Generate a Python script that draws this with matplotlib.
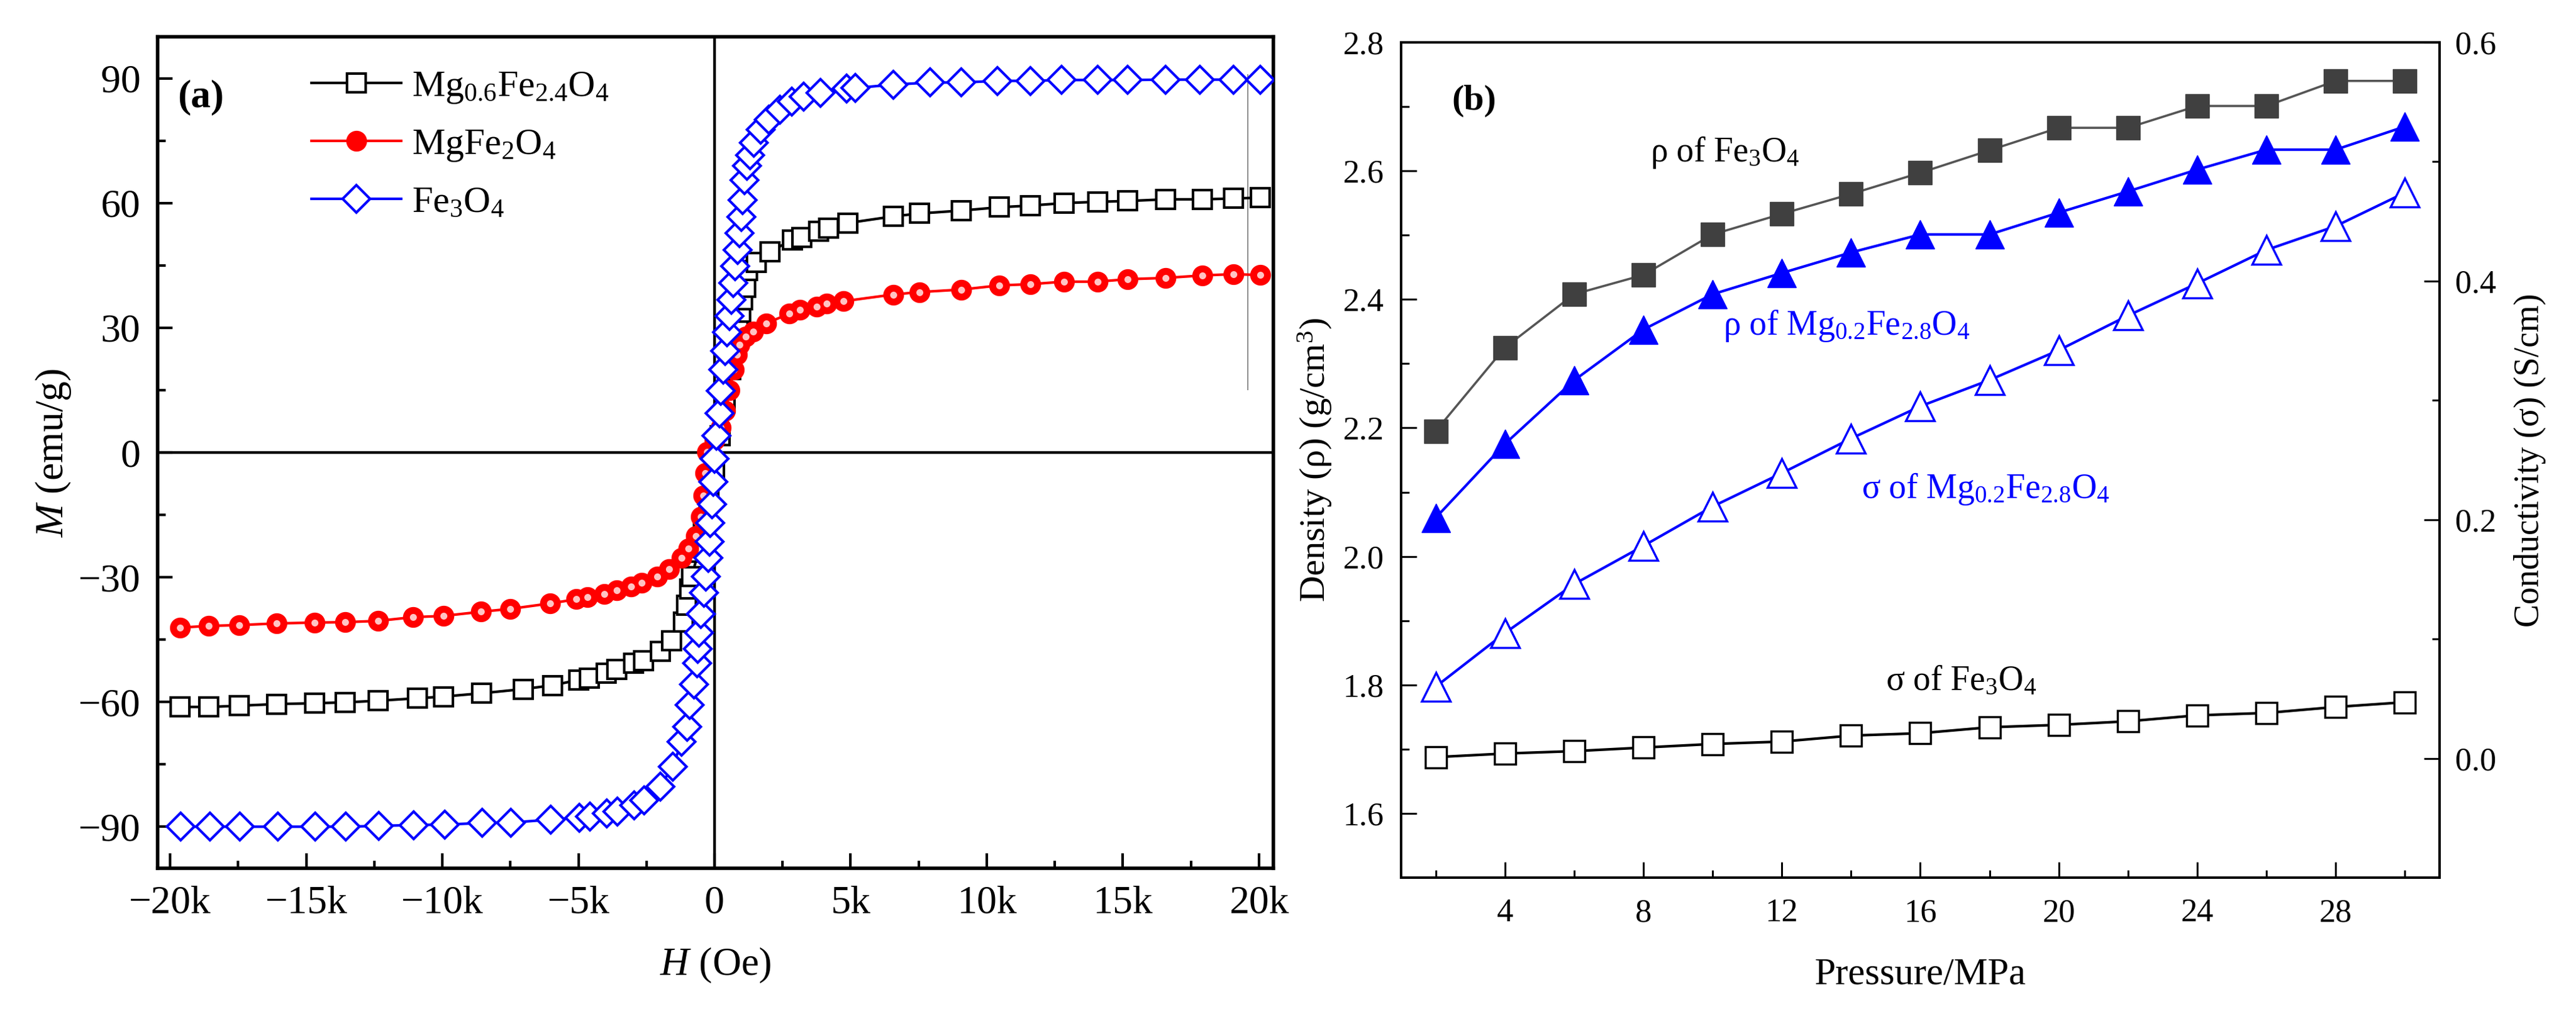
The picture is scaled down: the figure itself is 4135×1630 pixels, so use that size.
import matplotlib
matplotlib.use("Agg")
import matplotlib.pyplot as plt
from matplotlib.ticker import MultipleLocator, FuncFormatter

plt.rcParams['font.family'] = ['Liberation Serif', 'DejaVu Serif']
plt.rcParams['mathtext.fontset'] = 'custom'
plt.rcParams['mathtext.rm'] = 'Liberation Serif'
plt.rcParams['mathtext.it'] = 'Liberation Serif:italic'
plt.rcParams['mathtext.bf'] = 'Liberation Serif:bold'

# ---- panel (a): M-H loops (H in Oe, M in emu/g) ----
H_fe = [-19610, -18550, -17430, -16050, -14670, -13550, -12330, -11050, -9920, -8540,
        -7490, -6010, -4960, -4570, -3970, -3580, -2950, -2590, -2000, -1540,
        -1210, -1010, -920, -760, -650, -610, -570, -500, -380, -310,
        -230, -190, -150, -80, -40, 0, 80, 190, 230, 310,
        380, 460, 540, 610, 690, 760, 840, 920, 990, 1030,
        1100, 1200, 1300, 1440, 1700, 2000, 2400, 2840, 3280, 3890,
        4860, 5180, 6580, 7930, 9070, 10390, 11610, 12750, 14070, 15180,
        16580, 17840, 19070, 20040]
M_fe = [-90.0, -90.0, -90.0, -90.0, -90.0, -90.0, -89.8, -89.6, -89.5, -89.1,
        -89.0, -88.3, -87.8, -87.5, -86.8, -86.3, -84.9, -83.6, -80.3, -75.6,
        -69.6, -65.9, -60.7, -55.7, -50.7, -47.3, -43.3, -38.8, -33.8, -29.9,
        -25.4, -21.4, -16.9, -12.4, -7.0, -1.5, 4.0, 9.5, 14.9, 19.9,
        24.4, 28.9, 32.8, 36.8, 40.8, 44.8, 48.8, 52.7, 56.7, 60.7,
        65.5, 69.0, 71.5, 74.5, 77.6, 80.1, 82.5, 84.4, 85.6, 86.5,
        87.5, 87.7, 88.5, 89.0, 89.0, 89.4, 89.4, 89.6, 89.6, 89.6,
        89.7, 89.7, 89.7, 89.7]

H_mg06 = [-19630, -18580, -17460, -16080, -14700, -13580, -12370, -10910, -9960, -8550,
          -7030, -5960, -5000, -4590, -3980, -3590, -2980, -2600, -1990, -1570,
          -1150, -1030, -920, -840, -600, -400, -200, 0, 200, 400,
          600, 800, 880, 960, 1030, 1150, 1220, 1530, 2030, 2870,
          3210, 3820, 4200, 4890, 6560, 7530, 9070, 10470, 11610, 12840,
          14070, 15180, 16580, 17930, 19070, 20040]
M_mg06 = [-61.2, -61.2, -60.9, -60.5, -60.3, -60.1, -59.7, -59.1, -58.7, -57.9,
          -56.9, -56.0, -54.7, -54.2, -53.0, -52.2, -50.7, -50.0, -47.8, -45.3,
          -40.8, -36.8, -32.8, -29.9, -24.0, -18.0, -11.0, -4.0, 4.0, 12.0,
          20.0, 28.9, 30.8, 33.8, 36.8, 39.8, 43.8, 45.8, 48.3, 51.2,
          51.7, 53.2, 54.0, 55.2, 56.8, 57.5, 58.2, 59.0, 59.4, 60.0,
          60.3, 60.5, 60.9, 60.9, 61.1, 61.3]

H_mgfe = [-19630, -18580, -17460, -16080, -14700, -13580, -12370, -11080, -9960, -8580,
          -7500, -6040, -5080, -4660, -4050, -3590, -3060, -2680, -2100, -1680,
          -1220, -960, -690, -500, -420, -340, -270, 0, 230, 400,
          560, 700, 820, 920, 1150, 1410, 1910, 2750, 3130, 3750,
          4130, 4740, 6560, 7530, 9070, 10470, 11610, 12840, 14070, 15180,
          16580, 17930, 19070, 20040]
M_mgfe = [-42.1, -41.7, -41.5, -41.1, -40.9, -40.8, -40.5, -39.6, -39.3, -38.3,
          -37.6, -36.3, -35.3, -34.8, -34.1, -33.2, -32.3, -31.3, -29.9, -28.1,
          -25.4, -23.1, -20.1, -15.4, -10.4, -5.0, 0.2, 3.0, 6.0, 10.0,
          15.0, 20.0, 23.5, 25.9, 27.9, 29.1, 31.1, 33.4, 34.3, 35.1,
          35.8, 36.4, 38.0, 38.6, 39.2, 40.2, 40.5, 41.1, 41.1, 41.7,
          42.0, 42.6, 42.9, 42.7]

# thin grey guide line in panel (a)
guide_H = [19600, 19600]
guide_M = [15.2, 90.9]

# ---- panel (b): density and conductivity vs pressure ----
pressure = [2, 4, 6, 8, 10, 12, 14, 16, 18, 20, 22, 24, 26, 28, 30]
rho_fe3o4 = [2.195, 2.325, 2.408, 2.438, 2.501, 2.533, 2.564, 2.597, 2.632, 2.667,
             2.667, 2.701, 2.701, 2.740, 2.740]
rho_mg02 = [2.060, 2.175, 2.274, 2.353, 2.408, 2.441, 2.473, 2.501, 2.501, 2.535,
            2.568, 2.602, 2.633, 2.633, 2.669]
sigma_mg02 = [0.060, 0.105, 0.146, 0.178, 0.211, 0.239, 0.268, 0.295, 0.317, 0.342,
              0.371, 0.398, 0.426, 0.446, 0.474]
sigma_fe3o4 = [0.001, 0.004, 0.006, 0.009, 0.012, 0.014, 0.019, 0.021, 0.026, 0.028,
               0.031, 0.036, 0.038, 0.043, 0.047]


def kfmt(v, pos):
    if abs(v) < 1e-9:
        return "0"
    s = f"{int(round(v / 1000))}k"
    return s.replace("-", "\u2212")


fig = plt.figure(figsize=(41.35, 16.30), dpi=100)

# ================= panel (a) =================
ax = fig.add_axes([0.0612, 0.1454, 0.4331, 0.8184])
ax.axhline(0, color='black', lw=3.2, zorder=1)
ax.axvline(0, color='black', lw=3.2, zorder=1)
ax.plot(guide_H, guide_M, color='#8c8c8c', lw=1.4, zorder=1)

ax.plot(H_mg06, M_mg06, color='black', lw=3, marker='s', ms=21, mfc='white',
        mec='black', mew=3, zorder=3, label=r'Mg$_{0.6}$Fe$_{2.4}$O$_4$')
ax.plot(H_mgfe, M_mgfe, color='#ff0000', lw=3, marker='o', ms=23, mfc='#ff0000',
        mec='#ff0000', mew=1, zorder=4, label=r'MgFe$_2$O$_4$')
ax.plot(H_mgfe, M_mgfe, ls='none', marker='o', ms=8, mfc='#ffc4c4', mec='none', zorder=4)
ax.plot(H_fe, M_fe, color='#0000ff', lw=3, marker='D', ms=22, mfc='white',
        mec='#0000ff', mew=3, zorder=5, label=r'Fe$_3$O$_4$')

ax.set_xlim(-20460, 20530)
ax.set_ylim(-100, 100)
ax.xaxis.set_major_locator(MultipleLocator(5000))
ax.xaxis.set_minor_locator(MultipleLocator(2500))
ax.yaxis.set_major_locator(MultipleLocator(30))
ax.yaxis.set_minor_locator(MultipleLocator(15))
ax.xaxis.set_major_formatter(FuncFormatter(kfmt))
ax.yaxis.set_major_formatter(FuncFormatter(lambda v, p: f"{int(round(v))}".replace("-", "\u2212")))
ax.tick_params(which='both', direction='in', width=3, labelsize=46, pad=20,
               top=False, right=False)
ax.tick_params(which='major', length=17)
ax.tick_params(which='minor', length=9)
for sp in ax.spines.values():
    sp.set_linewidth(4)

ax.set_xlabel(r'$H$ (Oe)', fontsize=46, labelpad=28)
ax.set_ylabel(r'$M$ (emu/g)', fontsize=46, labelpad=6)
ax.text(0.018, 0.927, '(a)', transform=ax.transAxes, fontsize=46,
        fontweight='bold', va='center', ha='left')

leg = ax.legend(loc='upper left', bbox_to_anchor=(0.138, 0.96), frameon=False,
                fontsize=43, handlelength=2.4, handletextpad=0.3, labelspacing=0.6,
                borderpad=0, borderaxespad=0, numpoints=1)

# ================= panel (b) =================
ax2 = fig.add_axes([0.5439, 0.1362, 0.4031, 0.8221])
ax3 = ax2.twinx()

ax2.plot(pressure, rho_fe3o4, color='#555555', lw=2.6, marker='s', ms=28,
         mfc='#404040', mec='#404040', zorder=3)
ax2.plot(pressure, rho_mg02, color='#0000ff', lw=3, marker='^', ms=33,
         mfc='#0000ff', mec='#0000ff', zorder=3)
ax3.plot(pressure, sigma_mg02, color='#0000ff', lw=3, marker='^', ms=33,
         mfc='white', mec='#0000ff', mew=2.5, zorder=3)
ax3.plot(pressure, sigma_fe3o4, color='black', lw=3, marker='s', ms=25,
         mfc='white', mec='black', mew=2.5, zorder=3)

ax2.set_xlim(1, 31)
ax2.set_ylim(1.5, 2.8)
ax3.set_ylim(-0.1, 0.6)
ax2.xaxis.set_major_locator(MultipleLocator(4))
ax2.xaxis.set_minor_locator(MultipleLocator(2))
ax2.yaxis.set_major_locator(MultipleLocator(0.2))
ax2.yaxis.set_minor_locator(MultipleLocator(0.1))
ax3.yaxis.set_major_locator(MultipleLocator(0.2))
ax3.yaxis.set_minor_locator(MultipleLocator(0.1))
ax2.yaxis.set_major_formatter(FuncFormatter(lambda v, p: f"{v:.1f}"))
ax3.yaxis.set_major_formatter(FuncFormatter(lambda v, p: f"{v:.1f}"))

ax2.tick_params(which='both', direction='in', width=2.2, labelsize=38, top=False, right=False)
ax2.tick_params(axis='x', which='both', pad=24)
ax2.tick_params(axis='y', which='both', pad=20)
ax2.tick_params(which='major', length=18)
ax2.tick_params(which='minor', length=9)
ax3.tick_params(which='both', direction='in', width=2.2, labelsize=38, pad=18)
ax3.tick_params(which='major', length=18)
ax3.tick_params(which='minor', length=9)
for a in (ax2, ax3):
    for sp in a.spines.values():
        sp.set_linewidth(2.6)

ax2.set_xlabel('Pressure/MPa', fontsize=44, labelpad=34)
ax2.set_ylabel('Density (ρ) (g/cm$^3$)', fontsize=42, labelpad=10)
ax3.set_ylabel('Conductivity (σ) (S/cm)', fontsize=40, labelpad=20)

ax2.text(0.049, 0.93, '(b)', transform=ax2.transAxes, fontsize=42,
         fontweight='bold', va='center', ha='left')
ax2.text(8.2, 2.615, 'ρ of Fe$_3$O$_4$', fontsize=40, color='black')
ax2.text(10.3, 2.345, 'ρ of Mg$_{0.2}$Fe$_{2.8}$O$_4$', fontsize=40, color='#0000ff')
ax2.text(14.3, 2.091, 'σ of Mg$_{0.2}$Fe$_{2.8}$O$_4$', fontsize=40, color='#0000ff')
ax2.text(15.0, 1.792, 'σ of Fe$_3$O$_4$', fontsize=40, color='black')

fig.savefig('out.png', dpi=100)
